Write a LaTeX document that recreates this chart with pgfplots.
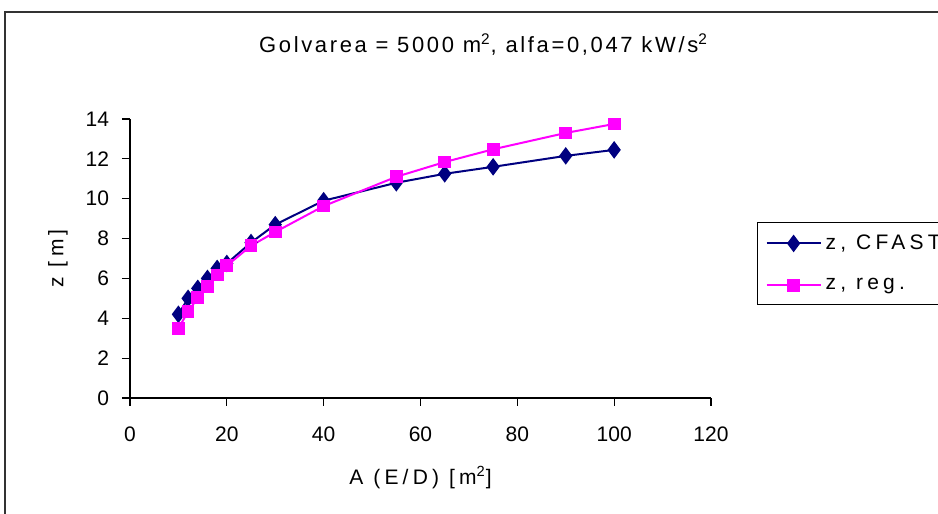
\documentclass[border=0pt]{standalone}
\usepackage{fontspec}
\setmainfont{Liberation Sans}
\newfontfamily\spaced{Liberation Sans}[LetterSpace=12]
\newfontfamily\wide{Liberation Sans}[LetterSpace=20]
\usepackage{pgfplots}
\pgfplotsset{compat=1.18}
\definecolor{cfast}{RGB}{0,0,128}
\definecolor{reg}{RGB}{255,0,255}
\begin{document}
\begin{tikzpicture}
\useasboundingbox (0,0) rectangle (469pt,257pt);
\clip (0,0) rectangle (469pt,257pt);
\fill[white] (0,0) rectangle (469pt,257pt);
\draw[line width=0.6pt, black!80] (2.5pt,-1pt) -- (2.5pt,251pt) -- (472pt,251pt);
\node[font=\spaced\fontsize{11}{13}\selectfont] at (241.75pt,234.5pt) {Golvarea = 5000 m\textsuperscript{2}, alfa=0,047 kW/s\textsuperscript{2}};
\begin{axis}[
  at={(65pt,58pt)}, anchor=south west,
  scale only axis, width=290.5pt, height=139.5pt,
  xmin=0, xmax=120, ymin=0, ymax=14,
  axis lines*=left,
  axis line style={line width=0.6pt},
  tick style={line width=0.6pt, black},
  tick align=outside, major tick length=4pt,
  xtick={0,20,...,120}, ytick={0,2,...,14},
  /pgf/number format/assume math mode=true,
  ticklabel style={font=\fontsize{10.5}{12}\selectfont},
  xticklabel style={yshift=-7pt},
  yticklabel style={xshift=-3pt},
  xlabel={A (E/D) [m\textsuperscript{2}]},
  ylabel={z [m]},
  label style={font=\wide\fontsize{10.5}{12}\selectfont},
  xlabel style={at={(rel axis cs:0.5,0)}, anchor=center, yshift=-40pt},
  ylabel style={at={(rel axis cs:0,0.5)}, anchor=center, xshift=0pt, yshift=36pt},
  legend style={at={(rel axis cs:1.0792,0.6308)}, anchor=north west,
    draw=black, line width=0.6pt, font=\wide\fontsize{10.5}{12}\selectfont,
    inner xsep=4pt, inner ysep=4pt, row sep=9pt},
  legend cell align=left,
  legend image code/.code={\draw[mark repeat=2,mark phase=2] plot coordinates {(0pt,0pt) (13.5pt,0pt) (27pt,0pt)};},
]
\addplot[color=cfast, line width=1pt, mark=diamond*, mark size=3.6pt, mark options={solid, fill=cfast}] coordinates {
(10,4.2) (12,5.0) (14,5.5) (16,6.0) (18,6.5) (20,6.75) (25,7.8) (30,8.7) (40,9.9) (55,10.8) (65,11.25) (75,11.6) (90,12.15) (100,12.45)};
\addlegendentry{z, CFAST}
\addplot[color=reg, line width=1pt, mark=square*, mark size=2.7pt, mark options={solid, fill=reg}] coordinates {
(10,3.5) (12,4.33) (14,5.03) (16,5.6) (18,6.17) (20,6.64) (25,7.64) (30,8.33) (40,9.63) (55,11.1) (65,11.84) (75,12.48) (90,13.3) (100,13.75)};
\addlegendentry{z, reg.}
\end{axis}
\end{tikzpicture}
\end{document}
